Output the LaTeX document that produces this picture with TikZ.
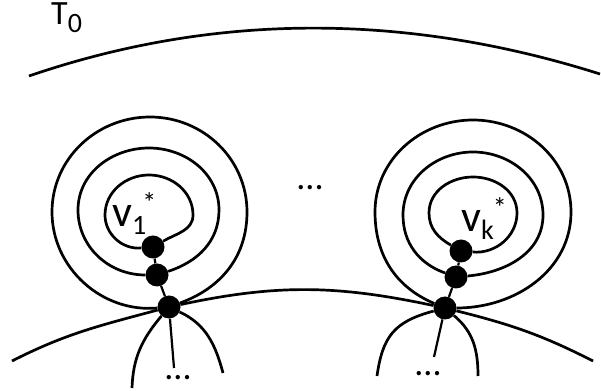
\documentclass[tikz,border=0pt]{standalone}
\usepackage{fontspec}
\setmainfont{Carlito}
\usepackage{tikz}
\usetikzlibrary{positioning}
\definecolor{Ink}{HTML}{000000}
\tikzset{
  vtx/.style={circle,fill=Ink,inner sep=0pt,minimum size=23pt},
  wire/.style={line width=2.7pt,Ink},
  stem/.style={line width=2.2pt,Ink},
  txt/.style={inner sep=0pt,anchor=base west,text=Ink},
  dots/.style={inner sep=0pt,anchor=base,font=\fontsize{36}{36}\selectfont,text=Ink}
}
\newcommand{\lowidx}[1]{\raisebox{-8pt}{\fontsize{28}{28}\selectfont #1}}
\newcommand{\highidx}[1]{\raisebox{14pt}{\fontsize{28}{28}\selectfont #1}}

\begin{document}
\begin{tikzpicture}[x=1pt,y=1pt]
  \useasboundingbox (0,0) rectangle (601,390);
  % outer boundary
  \coordinate (topL) at (29,314);
  \coordinate (topR) at (600,316);
  \draw[wire] (topL) .. controls (213,377) and (404,378) .. (topR);
  \node[txt,font=\fontsize{34}{34}\selectfont] (tau) at (51,365) {T\raisebox{-8pt}{\fontsize{28}{28}\selectfont 0}};

  % vertices
  \foreach \n/\x/\y in {L0/169/83,L1/157/115,L2/153/143,R0/445/82,R1/456/113,R2/461/139}
    \node[vtx] (\n) at (\x,\y) {};

  % nested loops
  \foreach \v/\lx/\ly/\cx/\ty/\rx/\oa/\ia in {
      L0/52/178/150/273/247/185/20, L1/78/180/149/242/219/180/18, L2/105/175/149/215/193/185/30,
      R0/375/178/473/270/571/157/0, R1/403/175/473/238/543/160/5, R2/429/177/473/213/517/150/-5}
    \draw[wire] (\v) to[out=\oa,in=-90] (\lx,\ly) to[out=90,in=180] (\cx,\ty)
      to[out=0,in=90] (\rx,\ly) to[out=-90,in=\ia] (\v);

  \draw[stem] (L0) -- (L1) -- (L2);
  \draw[stem] (R0) -- (R1) -- (R2);

  % lower boundary
  \coordinate (botL) at (12,29);
  \coordinate (botR) at (593,29);
  \draw[wire] (botL) to[out=27,in=195] (L0) to[out=12,in=168] (R0) to[out=-14,in=153] (botR);

  % branches below
  \coordinate (lb1) at (132,2);
  \coordinate (lb2) at (174,22);
  \coordinate (lb3) at (223,17);
  \coordinate (rb1) at (377,14);
  \coordinate (rb2) at (434,33);
  \coordinate (rb3) at (478,14);
  \draw[wire] (L0) to[out=230,in=88] (lb1);
  \draw[stem] (L0) -- (lb2);
  \draw[wire] (L0) to[out=-25,in=105] (lb3);
  \draw[wire] (R0) to[out=195,in=82,looseness=1.2] (rb1);
  \draw[stem] (R0) -- (rb2);
  \draw[wire] (R0) to[out=-40,in=90] (rb3);

  % labels
  \node[txt,font=\fontsize{44}{44}\selectfont] (v1) at (112,163) {v\lowidx{1}\kern-4pt\highidx{*}};
  \node[txt,font=\fontsize{44}{44}\selectfont] (vk) at (461,158) {v\lowidx{k}\kern-1pt\highidx{*}};
  \node[dots] (midDots) at (310,200) {...};
  \node[dots] (leftDots) at (178,10) {...};
  \node[dots] (rightDots) at (428,14) {...};
\end{tikzpicture}
\end{document}
